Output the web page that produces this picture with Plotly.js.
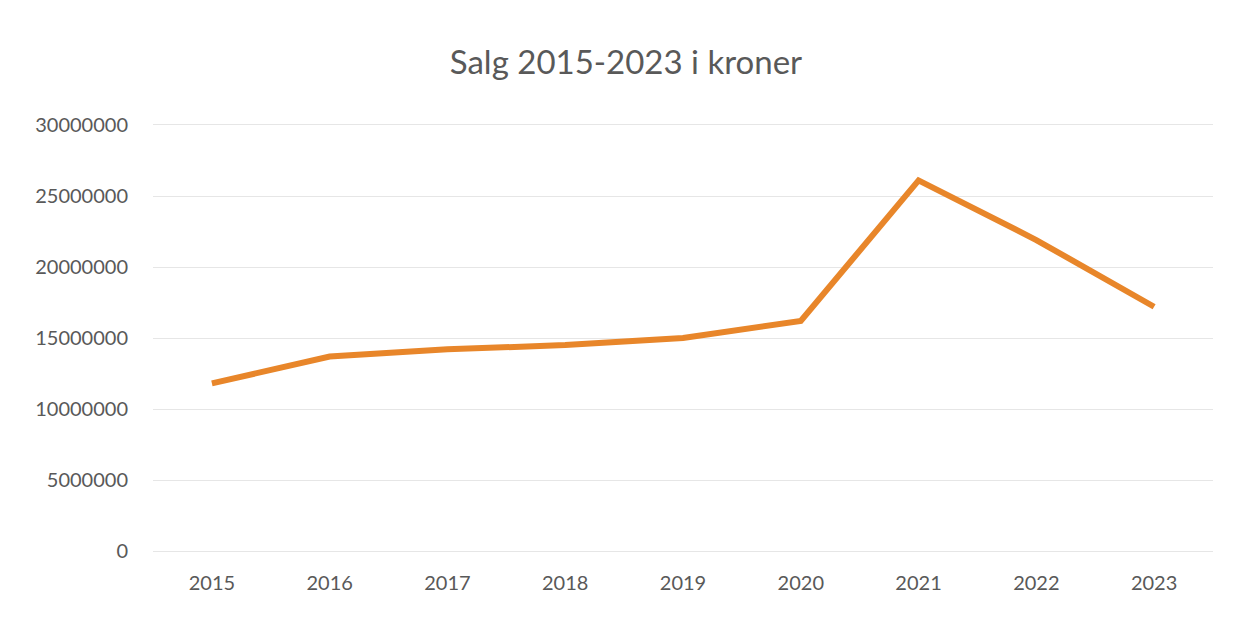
<!DOCTYPE html>
<html>
<head>
<meta charset="utf-8">
<script src="https://cdn.plot.ly/plotly-3.0.1.min.js"></script>
<style>html,body{margin:0;padding:0;background:#fff;}#chart{width:1242px;height:622px;}</style>
</head>
<body>
<div id="chart"></div>
<script>
const years = ['2015','2016','2017','2018','2019','2020','2021','2022','2023'];
const salg = [11800000, 13700000, 14200000, 14500000, 15000000, 16200000, 26100000, 21900000, 17200000];
const yTicks = [0, 5000000, 10000000, 15000000, 20000000, 25000000, 30000000];
const yTickLabels = ['0','5000000','10000000','15000000','20000000','25000000','30000000'];

const font = 'Lato, "Open Sans", "Noto Sans", sans-serif';

Plotly.newPlot('chart', [{
  x: years,
  y: salg,
  type: 'scatter',
  mode: 'lines',
  line: {color: '#E8862A', width: 6, shape: 'linear'},
  hoverinfo: 'x+y'
}], {
  width: 1242, height: 622,
  paper_bgcolor: '#ffffff', plot_bgcolor: '#ffffff',
  margin: {l: 153, r: 29, t: 125, b: 71},
  showlegend: false,
  title: {text: 'Salg 2015-2023 i kroner', x: 0.504, xanchor: 'center', y: 0.9, yanchor: 'middle',
          font: {family: font, size: 33, color: '#595959'}},
  xaxis: {
    type: 'category', range: [-0.5, 8.5],
    showgrid: false, zeroline: false,
    showline: true, mirror: true, linecolor: '#e6e6e6', linewidth: 1,
    ticks: 'outside', ticklen: 14, tickcolor: 'rgba(0,0,0,0)',
    tickfont: {family: font, size: 20, color: '#595959'}
  },
  yaxis: {
    range: [0, 30000000], tickvals: yTicks, ticktext: yTickLabels,
    showgrid: true, gridcolor: '#e6e6e6', gridwidth: 1,
    zeroline: false, showline: false,
    ticks: 'outside', ticklen: 20, tickcolor: 'rgba(0,0,0,0)',
    tickfont: {family: font, size: 20, color: '#595959'}
  }
}, {displayModeBar: false, staticPlot: true});
</script>
</body>
</html>
